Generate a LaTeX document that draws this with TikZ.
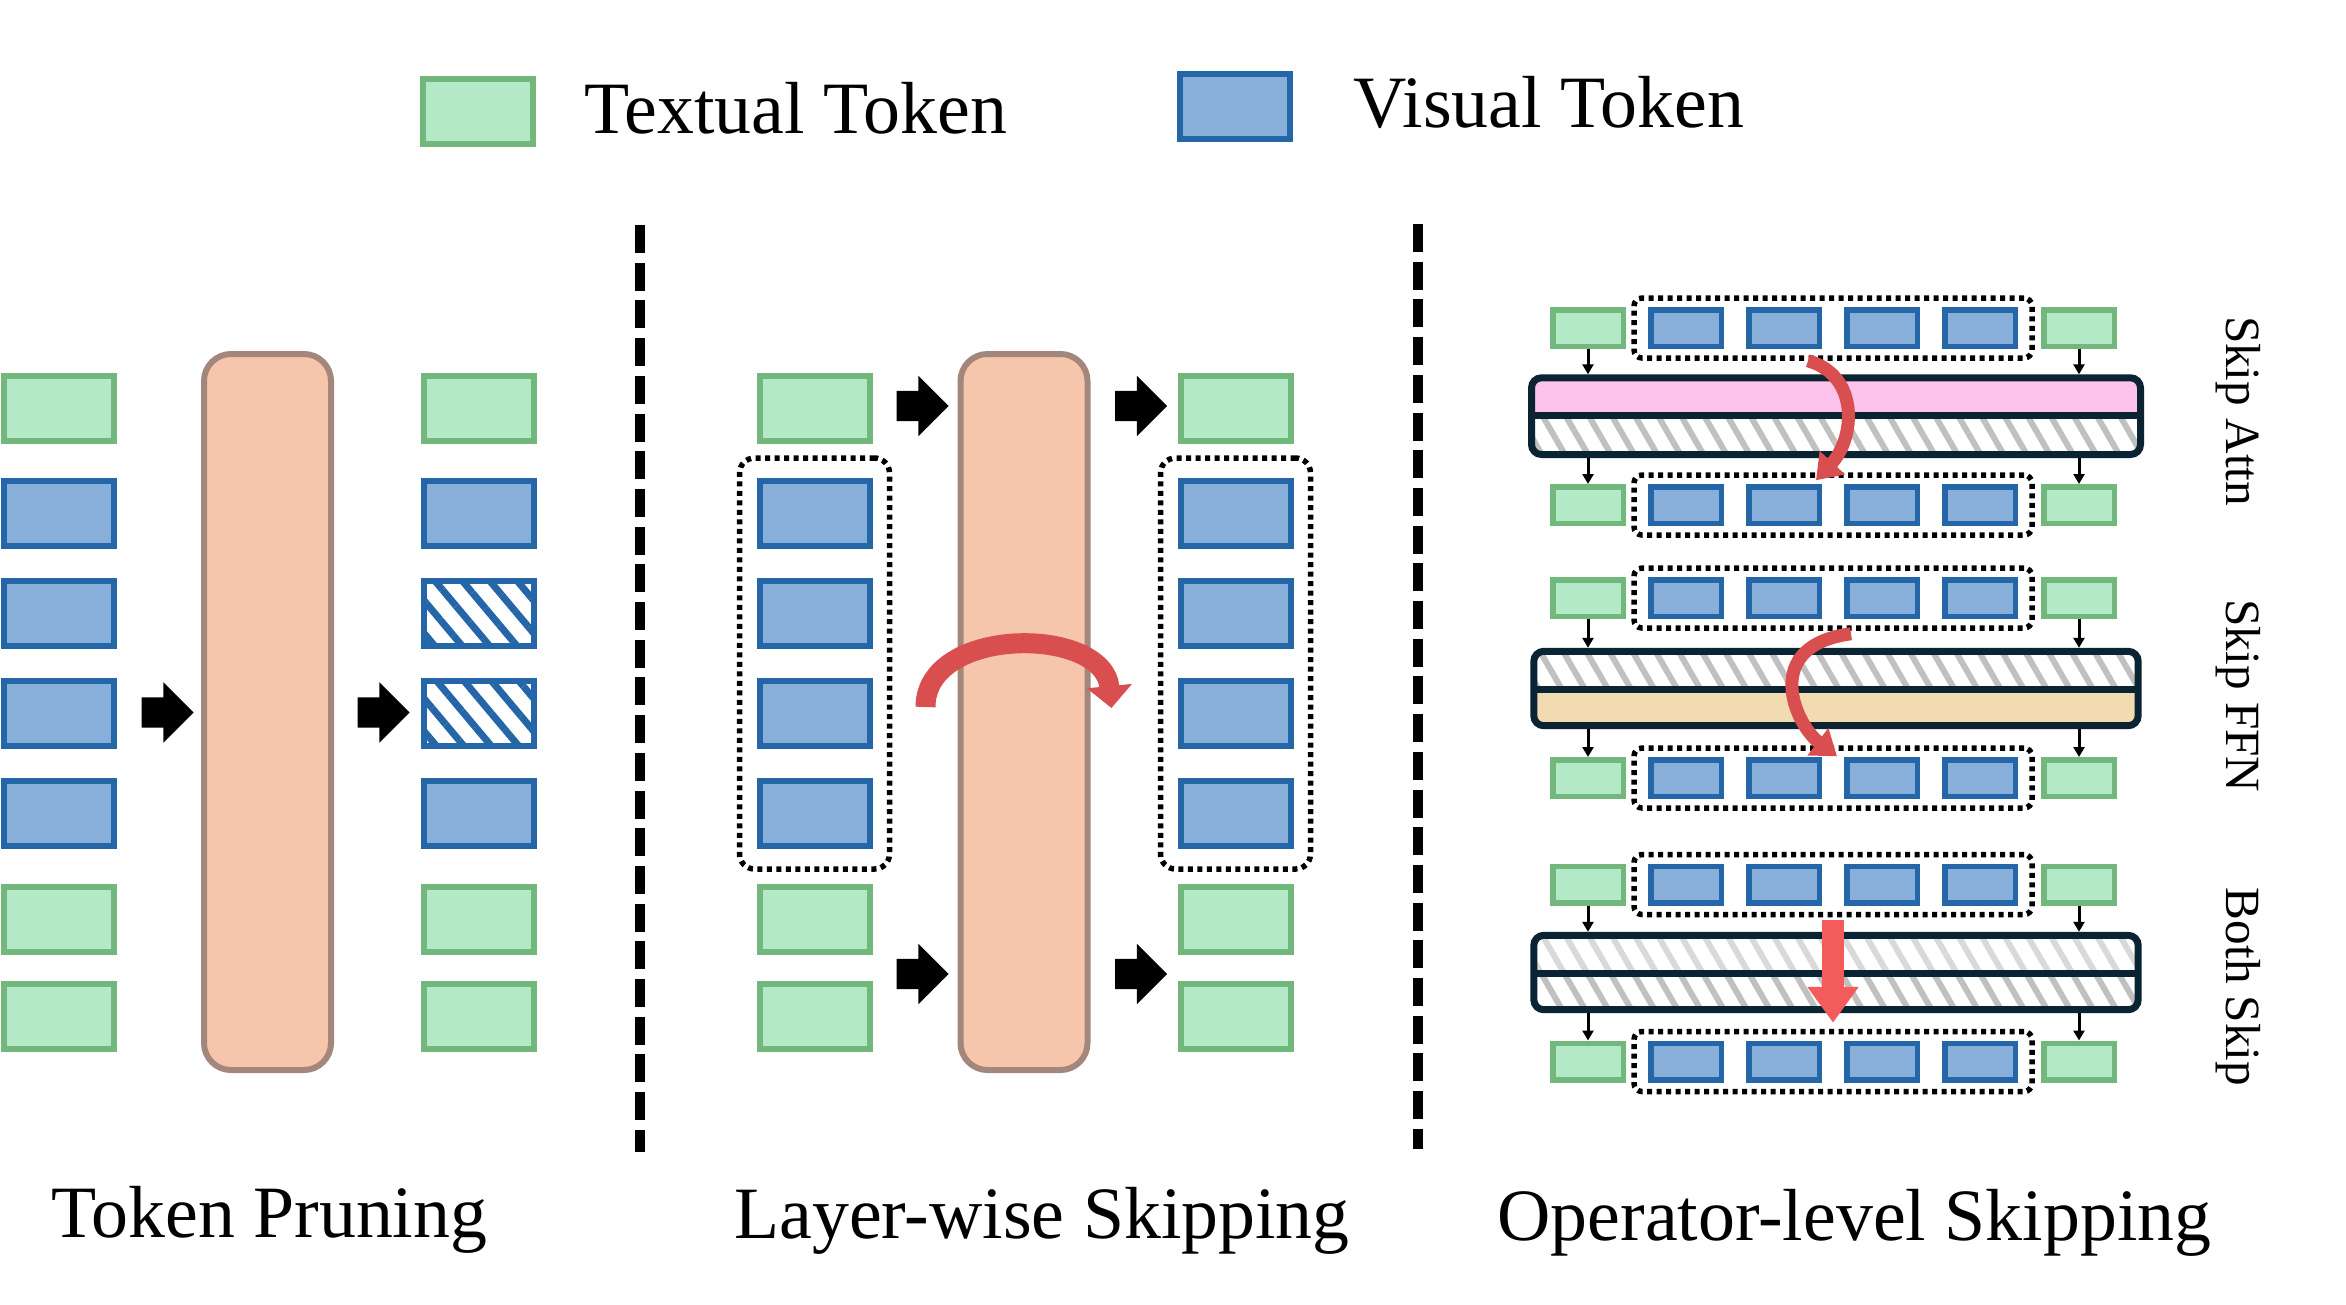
\documentclass[tikz,border=0pt]{standalone}
\usepackage{fontspec}
\setmainfont{Liberation Serif}
\usepackage{tikz}
\usetikzlibrary{arrows.meta,positioning,fit,calc,shapes.arrows,patterns.meta}
\definecolor{skGreen}{HTML}{B3E9C7}
\definecolor{skGreenEdge}{HTML}{72B87C}
\definecolor{skBlue}{HTML}{87AFDA}
\definecolor{skBlueEdge}{HTML}{2566A8}
\definecolor{skPeach}{HTML}{F5C6AC}
\definecolor{skPeachEdge}{HTML}{A3877D}
\definecolor{skInk}{HTML}{0B2433}
\definecolor{skPink}{HTML}{FDC3EB}
\definecolor{skTan}{HTML}{F2DBB1}
\definecolor{skHatch}{HTML}{C0C0C0}
\definecolor{skHatchLt}{HTML}{D9D9D9}
\definecolor{skRed}{HTML}{D94E4E}
\definecolor{skRedHi}{HTML}{F45B5B}
\tikzset{
  tok/.style       ={rectangle,inner sep=0pt,line width=0.06cm,
                     minimum width=1.10cm,minimum height=0.65cm},
  txt/.style       ={tok,draw=skGreenEdge,fill=skGreen},
  vis/.style       ={tok,draw=skBlueEdge,fill=skBlue},
  pruned/.style    ={tok,draw=skBlueEdge,pattern color=skBlueEdge,
                     pattern={Lines[angle=-50,distance=0.21cm,line width=0.07cm]}},
  stok/.style      ={rectangle,inner sep=0pt,line width=0.055cm,
                     minimum width=0.705cm,minimum height=0.365cm},
  stxt/.style      ={stok,draw=skGreenEdge,fill=skGreen},
  svis/.style      ={stok,draw=skBlueEdge,fill=skBlue},
  layer/.style     ={rectangle,rounded corners=0.27cm,fill=skPeach,draw=skPeachEdge,
                     line width=0.06cm,minimum width=1.27cm,minimum height=7.16cm,inner sep=0pt},
  blockarr/.style  ={single arrow,fill=black,draw=none,inner xsep=0pt,inner ysep=0.145cm,
                     minimum height=0.52cm,minimum width=0.59cm,single arrow head extend=0.15cm},
  grp/.style       ={draw=black,line width=0.055cm,dash pattern=on 0.05cm off 0.045cm,
                     rounded corners=0.15cm,inner xsep=0.17cm,inner ysep=0.2cm},
  sgrp/.style      ={grp,rounded corners=0.08cm,inner xsep=0.14cm,inner ysep=0.09cm},
  halfbar/.style   ={rectangle,inner sep=0pt,minimum width=6.03cm,minimum height=0.365cm},
  attn/.style      ={fill=skPink},
  ffn/.style       ={fill=skTan},
  skipA/.style     ={pattern color=skHatch,
                     pattern={Lines[angle=-60,distance=0.2cm,line width=0.06cm]}},
  skipB/.style     ={pattern color=skHatchLt,
                     pattern={Lines[angle=-60,distance=0.2cm,line width=0.06cm]}},
  barframe/.style  ={draw=skInk,line width=0.07cm,rounded corners=0.1cm,inner sep=0pt},
  barline/.style   ={skInk,line width=0.07cm},
  tinyarr/.style   ={-{Triangle[length=0.1cm,width=0.11cm]},line width=0.03cm,black},
  skipcurve/.style ={-{Triangle[length=0.24cm,width=0.33cm]},line width=0.13cm,skRed},
  skipbig/.style   ={-{Triangle[length=0.22cm,width=0.44cm]},line width=0.2cm,skRed},
  skipdown/.style  ={-{Triangle[length=0.36cm,width=0.49cm]},line width=0.22cm,skRedHi},
  divider/.style   ={black,line width=0.1cm,dash pattern=on 0.28cm off 0.097cm},
  lbl/.style       ={inner sep=0pt,font=\fontsize{21}{25}\selectfont},
  side/.style      ={inner sep=0pt,rotate=-90,font=\fontsize{14}{17}\selectfont},
}

\begin{document}
\begin{tikzpicture}
\path[use as bounding box,fill=white] (0,0) rectangle (23.46,-13.04);

%% legend
\node[txt] (lgT) at (4.78,-1.115) {};
\node[lbl,anchor=base west] (lgTt) at (5.84,-1.33) {Textual Token};
\node[vis] (lgV) at (12.345,-1.065) {};
\node[lbl,anchor=base west] (lgVt) at (13.53,-1.27) {Visual Token};

%% panel separators
\draw[divider] (6.40,-2.25) -- (6.40,-11.52);
\draw[divider] (14.18,-2.24) -- (14.18,-11.49);

%% token pruning
\node[layer] (L1) at (2.675,-7.12) {};
\foreach \t/\u/\y [count=\i] in {txt/txt/4.085, vis/vis/5.135, vis/pruned/6.135,
    vis/pruned/7.135, vis/vis/8.135, txt/txt/9.195, txt/txt/10.165}
  { \node[\t] (pl\i) at (0.59,-\y) {};
    \node[\u] (pr\i) at (4.79,-\y) {}; }
\node[blockarr] (pa1) at (1.60,-7.125) {};
\node[blockarr] (pa2) at (3.76,-7.125) {};

%% layer-wise skipping
\node[layer] (L2) at (10.24,-7.12) {};
\foreach \t/\y [count=\i] in {txt/4.085, vis/5.135, vis/6.135, vis/7.135,
    vis/8.135, txt/9.195, txt/10.165}
  { \node[\t] (sl\i) at (8.145,-\y) {};
    \node[\t] (sr\i) at (12.355,-\y) {}; }
\node[grp,fit=(sl2)(sl5)] (slg) {};
\node[grp,fit=(sr2)(sr5)] (srg) {};
\foreach \x [count=\i] in {9.15,11.335}
  { \node[blockarr] (sa\i) at (\x,-4.06) {};
    \node[blockarr] (sb\i) at (\x,-9.74) {}; }
\coordinate (sk2a) at ([xshift=-0.32cm,yshift=0.05cm]L2.west);
\coordinate (sk2b) at ([xshift=0.21cm,yshift=0.04cm]L2.east);
\draw[skipbig] (sk2a) .. controls +(0,0.815) and +(-0.08,0.825) .. (sk2b);

%% operator-level skipping
\foreach \k/\yt/\yb/\yr/\up/\lo/\lab/\ly in {1/3.28/4.15/5.05/attn/skipA/Skip Attn/4.11,
    2/5.98/6.885/7.78/skipA/ffn/Skip FFN/6.96,
    3/8.845/9.725/10.615/skipB/skipA/Both Skip/9.87}
  { \node[stxt] (gtl\k) at (15.88,-\yt) {};
    \node[stxt] (gtr\k) at (20.79,-\yt) {};
    \node[stxt] (gbl\k) at (15.88,-\yr) {};
    \node[stxt] (gbr\k) at (20.79,-\yr) {};
    \foreach \j in {0,...,3}
      { \node[svis] (vt\k\j) at ({16.86+0.98*\j},-\yt) {};
        \node[svis] (vb\k\j) at ({16.86+0.98*\j},-\yr) {}; }
    \node[sgrp,fit=(vt\k0)(vt\k3)] (dt\k) {};
    \node[sgrp,fit=(vb\k0)(vb\k3)] (db\k) {};
    \node[halfbar,\up] (bu\k) at (18.36,{-\yb+0.1825}) {};
    \node[halfbar,\lo] (bl\k) at (18.36,{-\yb-0.1825}) {};
    \node[barframe,fit=(bu\k)(bl\k)] (bar\k) {};
    \draw[barline] (bu\k.south west) -- (bu\k.south east);
    \foreach \g in {gtl,gtr}
      \draw[tinyarr] (\g\k.south) -- (\g\k.south |- bar\k.north);
    \foreach \g in {gbl,gbr}
      \draw[tinyarr] (bar\k.south -| \g\k) -- (\g\k.north);
    \node[side] (lab\k) at (22.38,-\ly) {\lab};
  }
\draw[skipcurve] ([xshift=-0.25cm]dt1.south) .. controls +(0.52,-0.15) and +(0.39,0.42)
  .. ([xshift=-0.17cm,yshift=-0.08cm]db1.north);
\draw[skipcurve] ([xshift=0.18cm,yshift=-0.03cm]dt2.south) .. controls +(-0.91,-0.12)
  and +(-0.42,0.32) .. ([xshift=0.04cm,yshift=-0.11cm]db2.north);
\draw[skipdown] ([yshift=-0.03cm]dt3.south) -- ([yshift=0.06cm]db3.north);

%% panel titles
\node[lbl,anchor=base] (t1) at (2.695,-12.37) {Token Pruning};
\node[lbl,anchor=base] (t2) at (10.42,-12.38) {Layer-wise Skipping};
\node[lbl,anchor=base] (t3) at (18.545,-12.40) {Operator-level Skipping};
\end{tikzpicture}
\end{document}
